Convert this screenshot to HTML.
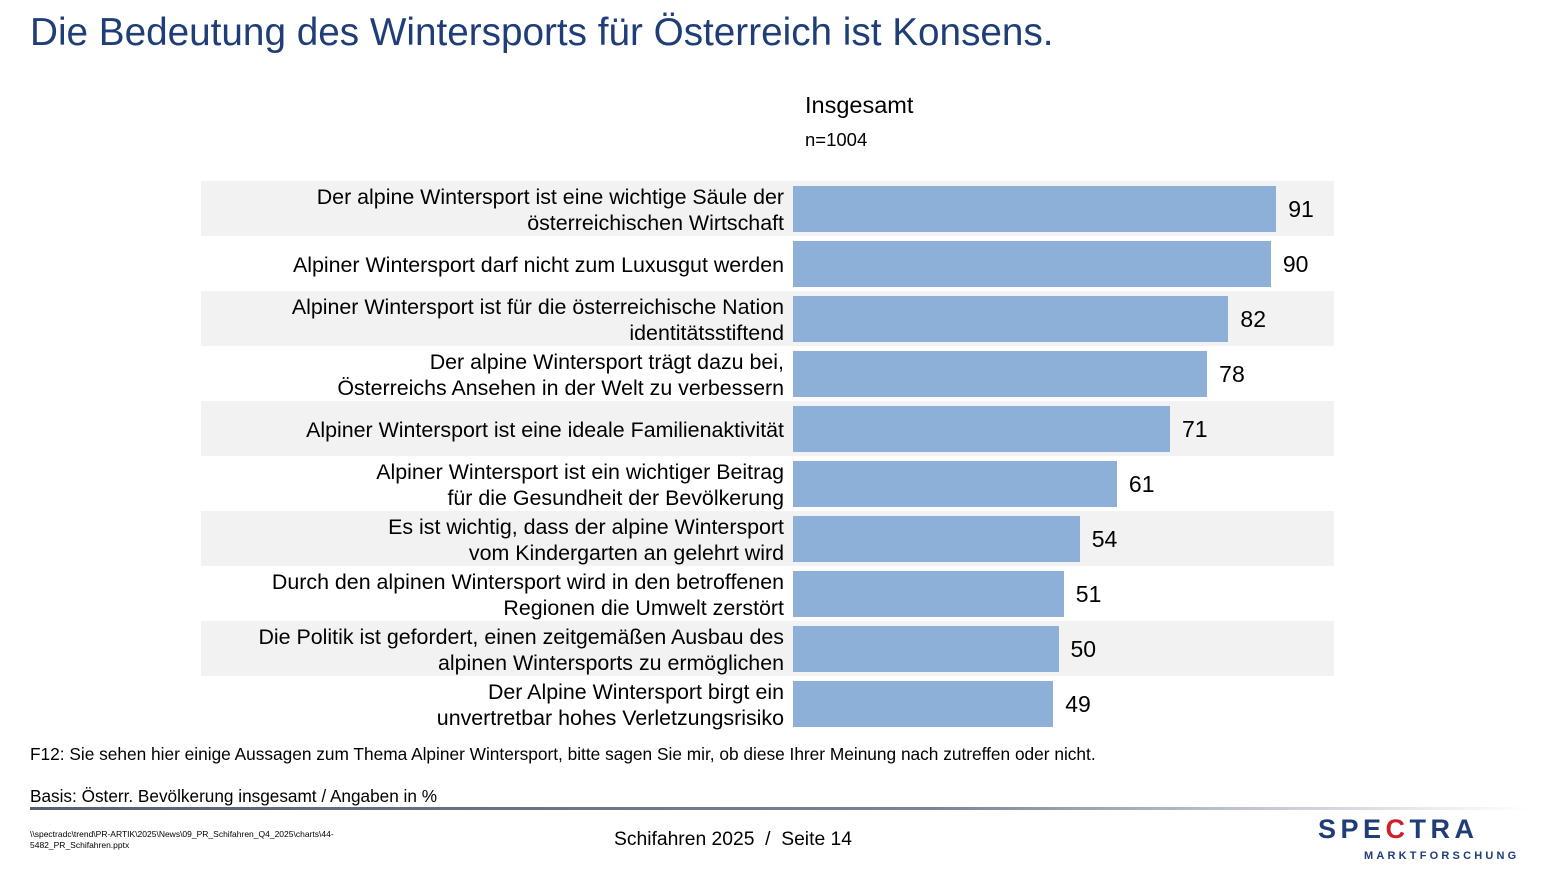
<!DOCTYPE html>
<html><head><meta charset="utf-8"><style>
body{margin:0;width:1547px;height:870px;background:#fff;font-family:"Liberation Sans",sans-serif;position:relative;overflow:hidden;color:#000}
.a{position:absolute}
.band{position:absolute;left:201px;width:1133px;height:55px;background:#f2f2f2}
.lab{position:absolute;right:763px;width:700px;text-align:right;font-size:21.4px;line-height:26px;display:flex;align-items:center;justify-content:flex-end;height:55px}
.bar{position:absolute;left:793px;height:46px;background:#8db0d9}
.val{position:absolute;font-size:23px;line-height:55px;height:55px}
</style></head><body>
<div class="a" style="left:30px;top:11px;font-size:38.7px;color:#1f3e78">Die Bedeutung des Wintersports für Österreich ist Konsens.</div>
<div class="a" style="left:805px;top:92px;font-size:23.5px">Insgesamt</div>
<div class="a" style="left:805px;top:129px;font-size:18.5px">n=1004</div>
<div id="c"></div>
<div class="a" style="left:30px;top:744px;font-size:17.3px">F12: Sie sehen hier einige Aussagen zum Thema Alpiner Wintersport, bitte sagen Sie mir, ob diese Ihrer Meinung nach zutreffen oder nicht.</div>
<div class="a" style="left:30px;top:786px;font-size:17.2px">Basis: Österr. Bevölkerung insgesamt / Angaben in %</div>
<div class="a" style="left:30px;top:807px;width:1500px;height:3px;background:linear-gradient(90deg,#556072 0%,#7a8496 60%,#fff 100%)"></div>
<div class="a" style="left:30px;top:829px;font-size:8.5px;line-height:11px">\\spectradc\trend\PR-ARTIK\2025\News\09_PR_Schifahren_Q4_2025\charts\44-<br>5482_PR_Schifahren.pptx</div>
<div class="a" style="left:614px;top:829px;font-size:19.3px">Schifahren 2025 &nbsp;/ &nbsp;Seite 14</div>
<div class="a" style="left:1318px;top:814px;font-size:27px;font-weight:bold;letter-spacing:4.5px;color:#1f3e78">SPE<span style="color:#d11f2a">C</span>TRA</div>
<div class="a" style="left:1364px;top:850px;font-size:11px;font-weight:bold;letter-spacing:3.2px;color:#1f3e78">MARKTFORSCHUNG</div>
<script>
var d=[["Der alpine Wintersport ist eine wichtige Säule der<br>österreichischen Wirtschaft",91],["Alpiner Wintersport darf nicht zum Luxusgut werden",90],["Alpiner Wintersport ist für die österreichische Nation<br>identitätsstiftend",82],["Der alpine Wintersport trägt dazu bei,<br>Österreichs Ansehen in der Welt zu verbessern",78],["Alpiner Wintersport ist eine ideale Familienaktivität",71],["Alpiner Wintersport ist ein wichtiger Beitrag<br>für die Gesundheit der Bevölkerung",61],["Es ist wichtig, dass der alpine Wintersport<br>vom Kindergarten an gelehrt wird",54],["Durch den alpinen Wintersport wird in den betroffenen<br>Regionen die Umwelt zerstört",51],["Die Politik ist gefordert, einen zeitgemäßen Ausbau des<br>alpinen Wintersports zu ermöglichen",50],["Der Alpine Wintersport birgt ein<br>unvertretbar hohes Verletzungsrisiko",49]];
var h="";d.forEach(function(r,i){var y=181+i*55,w=r[1]*5.31;
if(i%2==0)h+='<div class="band" style="top:'+y+'px"></div>';
h+='<div class="lab" style="top:'+(y+1)+'px"><span>'+r[0]+'</span></div>';
h+='<div class="bar" style="top:'+(y+5)+'px;width:'+w+'px"></div>';
h+='<div class="val" style="top:'+(y+1)+'px;left:'+(793+w+12)+'px">'+r[1]+'</div>';});
document.getElementById("c").innerHTML=h;
</script>
</body></html>
